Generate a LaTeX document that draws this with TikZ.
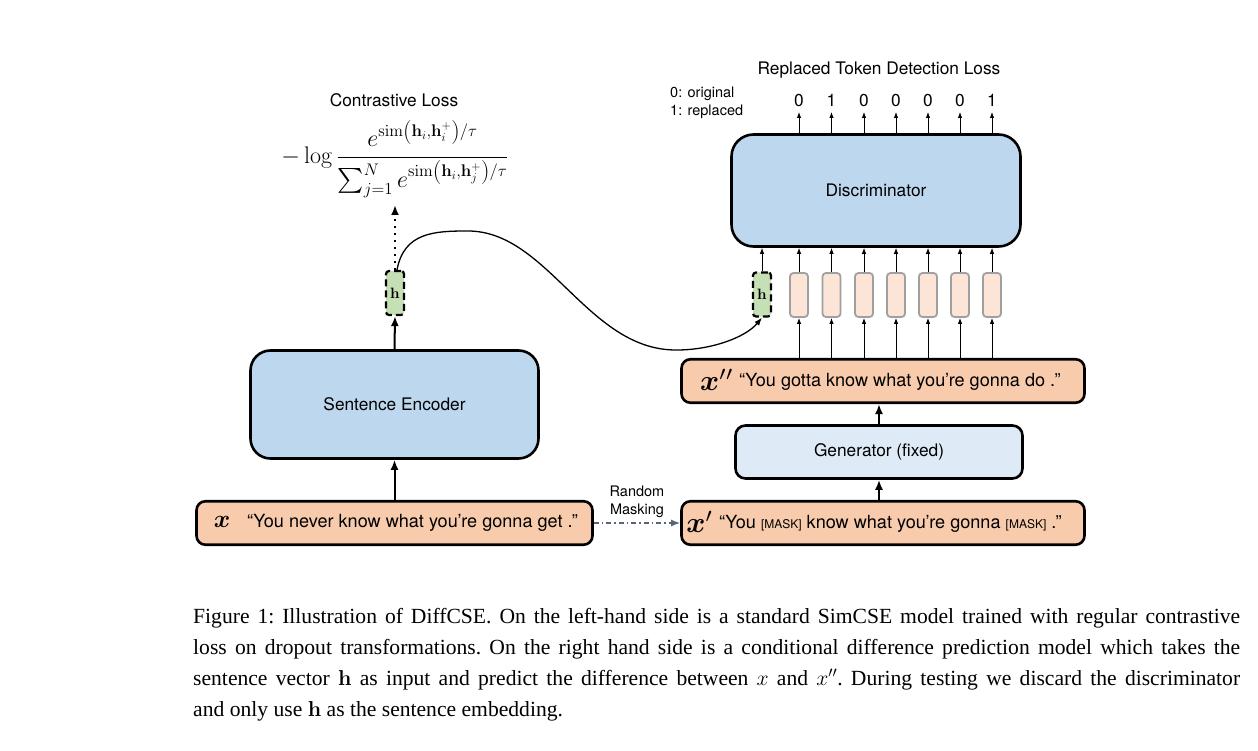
\documentclass[tikz,border=0pt]{standalone}
\usepackage{fix-cm}
\usepackage{amsmath,bm}
\usepackage[no-math]{fontspec}
\setmainfont{Liberation Serif}
\newfontfamily\hv{TeX Gyre Heros}
\usetikzlibrary{arrows.meta}
\definecolor{encblue}{HTML}{BDD7EE}
\definecolor{genblue}{HTML}{DEEBF7}
\definecolor{peach}{HTML}{F8CBAD}
\definecolor{tokfill}{HTML}{FCE4D6}
\definecolor{tokgray}{HTML}{A0A0A0}
\definecolor{hgreen}{HTML}{C5E0B4}
\definecolor{maskarrow}{HTML}{56657A}
\newcommand{\lbl}{\hv\fontsize{17.3}{20}\selectfont}
\newcommand{\sentfont}{\hv\fontsize{18.1}{20}\selectfont}
\newcommand{\smlbl}{\hv\fontsize{14.5}{18}\selectfont}
\newcommand{\msk}{{\hv\fontsize{12}{12}\selectfont[MASK]}}
\tikzset{
  bigbox/.style={draw, line width=2.6pt, fill=encblue, font=\lbl, inner sep=0pt},
  sentbox/.style={draw, line width=2.6pt, rounded corners=9pt, fill=peach, minimum height=43.5pt, inner sep=0pt},
  hvec/.style={draw, line width=2.2pt, dash pattern=on 7pt off 4pt, rounded corners=3pt, fill=hgreen, minimum width=18pt, minimum height=44pt, inner sep=0pt},
  tokbox/.style={draw=tokgray, line width=1.8pt, rounded corners=3.5pt, fill=tokfill, minimum width=18pt, minimum height=44pt, inner sep=0pt},
  thickarrow/.style={-{Latex[length=10pt,width=8pt]}, line width=2pt},
  thinarrow/.style={-{Latex[length=6pt,width=4.5pt]}, line width=0.9pt},
}
\begin{document}
\begin{tikzpicture}[x=1pt,y=-1pt]
\useasboundingbox (0,0) rectangle (1258,751);
% ---------- left side ----------
\node[bigbox, rounded corners=20pt, minimum width=288pt, minimum height=108pt] (enc) at (394.5,404.5) {Sentence Encoder};
\node[sentbox, minimum width=396pt] (xb) at (394.5,523) {};
\node[anchor=center] (xsym) at (222,522) {\scalebox{2.5}{$\boldsymbol{x}$}};
\node[anchor=west, inner sep=0pt, font=\sentfont] (xtxt) at (247,523) {“You never know what you’re gonna get .”};
\node[hvec] (hl) at (395,293) {\scalebox{1.5}{$\mathbf{h}$}};
\coordinate (losstop) at (395,205);
\node (form) at (395,159) {\fontsize{24}{28}\selectfont$\displaystyle -\log\frac{e^{\mathrm{sim}\left(\mathbf{h}_i,\mathbf{h}_i^{+}\right)/\tau}}{\sum_{j=1}^{N}e^{\mathrm{sim}\left(\mathbf{h}_i,\mathbf{h}_j^{+}\right)/\tau}}$};
\node[font=\lbl] (closs) at (394,100) {Contrastive Loss};
\draw[thickarrow] (xb.north) -- (enc.south);
\draw[thickarrow] (enc.north) -- (hl.south);
\draw[-{Latex[length=10pt,width=8pt]}, line width=2pt, dash pattern=on 2pt off 5pt] (hl.north) -- (losstop);
% ---------- right side ----------
\node[bigbox, rounded corners=22pt, minimum width=289pt, minimum height=112pt] (disc) at (876,190.5) {Discriminator};
\node[bigbox, fill=genblue, rounded corners=10pt, minimum width=287pt, minimum height=53pt] (gen) at (879,452) {Generator (fixed)};
\node[sentbox, minimum width=403pt] (xpp) at (883,381) {};
\node[sentbox, minimum width=403pt] (xp) at (883,523) {};
\node (xppsym) at (717,380) {\scalebox{2.9}{$\boldsymbol{x}''$}};
\node[anchor=west, inner sep=0pt, font=\sentfont] (xpptxt) at (739,382) {“You gotta know what you’re gonna do .”};
\node (xpsym) at (700,522) {\scalebox{2.9}{$\boldsymbol{x}'$}};
\node[anchor=west, inner sep=0pt, font=\sentfont] (xptxt) at (719,524) {“You \msk{} know what you’re gonna \msk{} .”};
\node[hvec] (hr) at (762,294.5) {\scalebox{1.5}{$\mathbf{h}$}};
\foreach \i/\xx/\lab in {1/799/0,2/831.5/1,3/864/0,4/896/0,5/928/0,6/960/0,7/992/1}{
  \node[tokbox] (t\i) at (\xx,295) {};
  \coordinate (o\i) at (\xx,112);
  \node[font=\lbl, anchor=base] (l\i) at (\xx,107) {\lab};
  \draw[thinarrow] (t\i.north) -- (t\i |- disc.south);
  \draw[thinarrow] (t\i |- xpp.north) -- (t\i.south);
  \draw[thinarrow] (t\i |- disc.north) -- (o\i);
}
\draw[thinarrow] (hr.north) -- (hr |- disc.south);
\node[font=\lbl] (rtd) at (879,70) {Replaced Token Detection Loss};
\node[font=\smlbl, anchor=west, align=left, inner sep=0pt] (legend) at (670,103) {0: original\\1: replaced};
\draw[thickarrow] (gen.north) -- (gen.north |- xpp.south);
\draw[thickarrow] (gen.south |- xp.north) -- (gen.south);
% masking arrow
\draw[-{Latex[length=9pt,width=7pt]}, line width=1.6pt, maskarrow, dash pattern=on 5pt off 3pt on 1.5pt off 3pt] (xb.east) -- (xp.west);
\node[font=\smlbl, align=center, inner sep=0pt] (rm) at (637,502) {Random\\Masking};
% curve from left h to right h
\coordinate (cpeak) at (468,231);
\coordinate (cbot) at (677,350);
\draw[-{Latex[length=8pt,width=6pt]}, line width=1.3pt] ([xshift=2pt]hl.north) .. controls (404,232) and (435,231) .. (cpeak) .. controls (548,231) and (588,351) .. (cbot) .. controls (710,350) and (745,338) .. (hr.south);
% ---------- caption ----------
\node[anchor=base west, inner sep=0pt] (cap) at (193,623) {\parbox[t]{1047pt}{\fontsize{21.6}{31}\selectfont\frenchspacing
\makebox[1047pt][s]{Figure 1: Illustration of DiffCSE. On the left-hand side is a standard SimCSE model trained with regular contrastive}\\
\makebox[1047pt][s]{loss on dropout transformations. On the right hand side is a conditional difference prediction model which takes the}\\
\makebox[1047pt][s]{sentence vector $\mathbf{h}$ as input and predict the difference between $x$ and $x''$. During testing we discard the discriminator}\\
and only use $\mathbf{h}$ as the sentence embedding.}};
\end{tikzpicture}
\end{document}
